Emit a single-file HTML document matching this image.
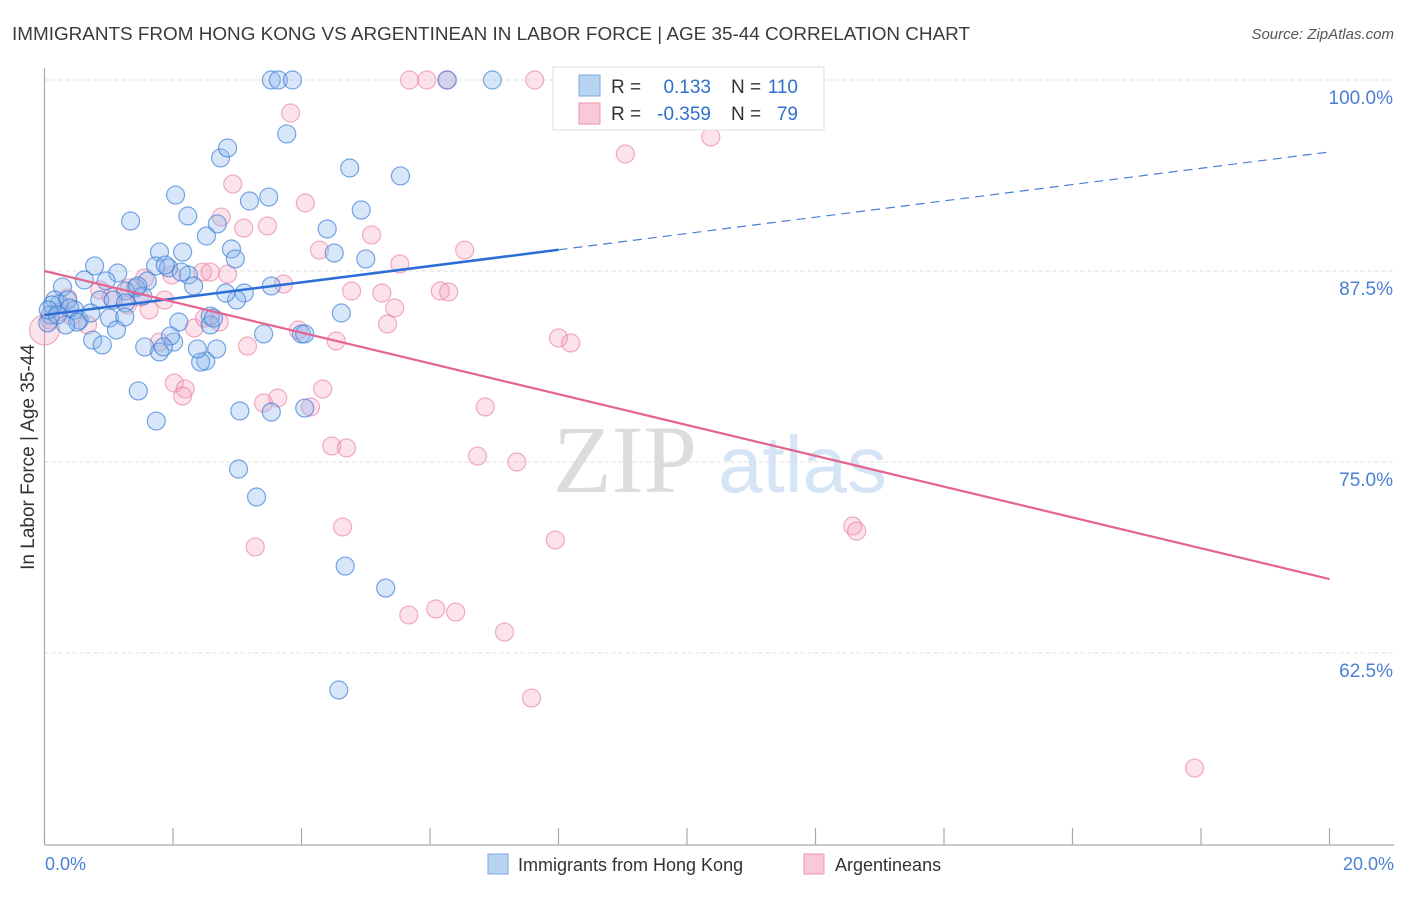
<!DOCTYPE html>
<html><head><meta charset="utf-8"><style>
body{margin:0;background:#fff;width:1406px;height:892px;overflow:hidden;font-family:"Liberation Sans",sans-serif}
</style></head><body>
<svg id="chart" width="1406" height="892" xmlns="http://www.w3.org/2000/svg" font-family="Liberation Sans, sans-serif">
<text x="12" y="40" font-size="18" fill="#3a3a3a" textLength="958" lengthAdjust="spacingAndGlyphs">IMMIGRANTS FROM HONG KONG VS ARGENTINEAN IN LABOR FORCE | AGE 35-44 CORRELATION CHART</text>
<text x="1394" y="39" font-size="15" fill="#555" font-style="italic" text-anchor="end">Source: ZipAtlas.com</text>
<g>
<text x="553" y="492" font-size="96" fill="#dcdcdc" font-family="Liberation Serif, serif">ZIP</text>
<text x="718" y="492" font-size="80" fill="#d6e5f6">atlas</text>
</g>
<g id="grid"></g>
<line x1="44.5" y1="68" x2="44.5" y2="845" stroke="#aaa" stroke-width="1.2"/>
<line x1="44.5" y1="845" x2="1394" y2="845" stroke="#aaa" stroke-width="1.2"/>
<g id="xticks"></g>
<text transform="translate(34,457) rotate(-90)" font-size="19" fill="#333" text-anchor="middle">In Labor Force | Age 35-44</text>
<text x="45" y="870" font-size="18" fill="#4a7fd4">0.0%</text>
<text x="1394" y="870" font-size="18" fill="#4a7fd4" text-anchor="end">20.0%</text>
<g id="pts"></g>
<g id="lines"></g>
<g>
<rect x="553" y="67" width="271" height="63" fill="#fff" stroke="#ddd"/>
<rect x="579" y="75" width="21" height="21" fill="#b9d3f3" stroke="#7aa8e4"/>
<rect x="579" y="103" width="21" height="21" fill="#f9c9d7" stroke="#ee93ae"/>
<text x="611" y="93" font-size="19" fill="#333">R =</text>
<text x="711" y="93" font-size="19" fill="#2f6fd0" text-anchor="end">0.133</text>
<text x="731" y="93" font-size="19" fill="#333">N =</text>
<text x="798" y="93" font-size="19" fill="#2f6fd0" text-anchor="end">110</text>
<text x="611" y="120" font-size="19" fill="#333">R =</text>
<text x="711" y="120" font-size="19" fill="#2f6fd0" text-anchor="end">-0.359</text>
<text x="731" y="120" font-size="19" fill="#333">N =</text>
<text x="798" y="120" font-size="19" fill="#2f6fd0" text-anchor="end">79</text>
</g>
<g>
<rect x="488" y="854" width="20" height="20" fill="#b9d3f3" stroke="#7aa8e4"/>
<text x="518" y="871" font-size="18" fill="#333">Immigrants from Hong Kong</text>
<rect x="804" y="854" width="20" height="20" fill="#f9c9d7" stroke="#ee93ae"/>
<text x="835" y="871" font-size="18" fill="#333">Argentineans</text>
</g>
</svg>
<script>
const yTicks=[100,87.5,75,62.5];
const yTickLabels=["100.0%","87.5%","75.0%","62.5%"];
const xTicks=[0,2,4,6,8,10,12,14,16,18,20];
const blueX=[3.53,3.64,3.86,6.27,6.97,3.77,4.75,5.54,2.74,2.85,2.04,2.23,1.34,3.19,3.49,4.93,2.69,2.52,2.91,4.40,4.51,5.00,2.97,2.15,1.79,1.73,0.78,1.93,2.24,2.13,1.14,1.88,2.32,1.60,1.42,1.26,1.53,1.45,0.96,0.62,0.28,0.23,0.16,0.36,0.47,0.12,0.09,0.05,0.54,0.86,1.07,1.26,1.01,1.25,0.72,0.51,0.75,0.90,1.12,3.53,3.11,2.99,2.82,2.58,2.58,2.63,2.09,2.01,1.96,1.56,1.79,1.85,2.51,2.43,2.68,3.41,4.00,4.05,4.62,2.38,1.46,1.74,3.04,3.53,4.05,3.02,3.30,4.68,5.31,4.58,0.06,0.33,0.39,0.20];
const blueY=[100,100,100,100,100,96.47,94.24,93.72,94.90,95.55,92.47,91.10,90.77,92.08,92.34,91.49,90.58,89.79,88.94,90.25,88.68,88.29,88.29,88.74,88.74,87.83,87.83,87.70,87.24,87.43,87.37,87.89,86.52,86.85,86.39,86.19,85.86,86.52,86.85,86.91,86.45,85.34,85.60,85.60,84.95,85.28,84.62,84.10,84.29,85.60,85.60,85.41,84.42,84.49,84.75,84.16,82.98,82.66,83.64,86.52,86.06,85.60,86.06,84.55,83.97,84.42,84.16,82.85,83.25,82.53,82.20,82.53,81.61,81.54,82.40,83.38,83.38,83.38,84.75,82.40,79.65,77.68,78.34,78.27,78.53,74.54,72.71,68.19,66.75,60.08,84.95,83.97,85.08,84.62];
const pinkX=[5.68,5.95,6.26,7.63,3.83,9.04,10.37,2.93,4.06,2.75,3.47,3.10,5.09,4.28,6.54,5.53,2.46,2.85,2.58,3.72,4.78,5.25,6.16,6.29,5.45,5.34,3.95,4.54,8.00,8.19,3.16,2.02,2.19,2.15,3.41,3.63,4.33,4.14,6.86,4.47,4.70,6.74,7.35,4.64,7.95,12.58,12.64,3.28,5.67,6.09,6.40,7.16,7.58,17.90,0.08,0.23,0.36,0.42,0.67,0.86,1.04,1.32,1.48,1.56,1.63,1.79,1.87,1.98,2.33,2.49,2.72,1.29,0.0];
const pinkY=[100,100,100,100,97.84,95.16,96.27,93.19,91.95,91.03,90.45,90.31,89.86,88.87,88.87,87.96,87.43,87.30,87.43,86.65,86.19,86.06,86.19,86.13,85.08,84.03,83.64,82.92,83.12,82.79,82.59,80.17,79.78,79.32,78.86,79.19,79.78,78.60,78.60,76.05,75.92,75.39,75.00,70.75,69.90,70.81,70.48,69.44,64.99,65.38,65.18,63.87,59.55,54.97,84.29,84.82,85.73,84.55,83.97,86.26,85.80,86.39,85.80,87.04,84.95,82.85,85.60,87.24,83.77,84.42,84.16,85.28,83.64];
const blueTrend=[84.62,95.29];
const blueSolidEnd=8;
const pinkTrend=[87.5,67.34];
const NS='http://www.w3.org/2000/svg';
const xs=v=>44.5+v*64.25;
const ys=v=>80+(100-v)*15.28;
function mk(tag,attrs,parent){const e=document.createElementNS(NS,tag);for(const k in attrs)e.setAttribute(k,attrs[k]);parent.appendChild(e);return e;}
const grid=document.getElementById('grid');
yTicks.forEach((t,i)=>{
 const l=mk('line',{x1:44.5,x2:1394,y1:ys(t),y2:ys(t),stroke:'#ddd','stroke-dasharray':'4,3'},grid);
 
 
 const tx=mk('text',{x:1393,y:ys(t)+24,'font-size':19,fill:'#4a7fd4','text-anchor':'end'},grid);
 tx.textContent=yTickLabels[i];
 
 
});
const xt=document.getElementById('xticks');
xTicks.forEach(t=>{
 const l=mk('line',{x1:xs(t),x2:xs(t),y1:828,y2:845,stroke:'#aaa','stroke-width':1.2},xt);
 
 
});
const pts=document.getElementById('pts');
pinkX.forEach((x,i)=>{
 const c=mk('circle',{cx:xs(x),cy:ys(pinkY[i]),r:(i===pinkX.length-1?15:9),fill:'rgba(244,160,188,0.3)',stroke:'rgba(234,120,158,0.6)','stroke-width':1.2},pts);
 
 
});
blueX.forEach((x,i)=>{
 const c=mk('circle',{cx:xs(x),cy:ys(blueY[i]),r:9,fill:'rgba(140,184,236,0.35)',stroke:'rgba(52,120,214,0.65)','stroke-width':1.2},pts);
 
 
});
const ln=document.getElementById('lines');
const bAt=v=>blueTrend[0]+(blueTrend[1]-blueTrend[0])*v/20;
let e=mk('line',{x1:xs(0),y1:ys(bAt(0)),x2:xs(blueSolidEnd),y2:ys(bAt(blueSolidEnd)),stroke:'#2b6fd6','stroke-width':2.5},ln);


e=mk('line',{x1:xs(blueSolidEnd),y1:ys(bAt(blueSolidEnd)),x2:xs(20),y2:ys(bAt(20)),stroke:'#4a7fd4','stroke-width':1.2,'stroke-dasharray':'9,6'},ln);


e=mk('line',{x1:xs(0),y1:ys(pinkTrend[0]),x2:xs(20),y2:ys(pinkTrend[1]),stroke:'#e5648f','stroke-width':2.2},ln);


</script>
</body></html>
